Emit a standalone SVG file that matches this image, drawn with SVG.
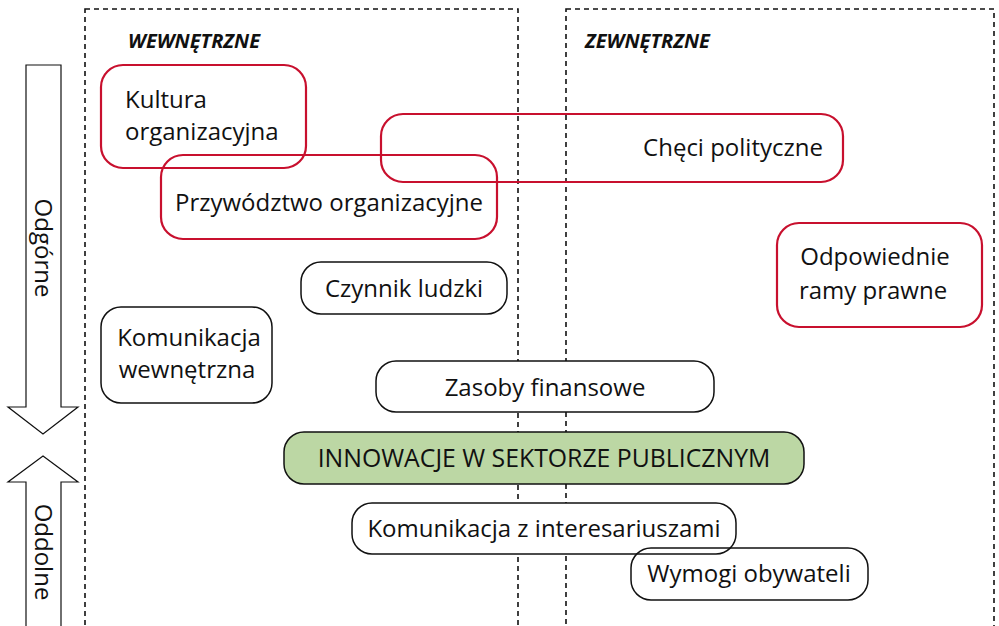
<svg xmlns="http://www.w3.org/2000/svg" width="999" height="626" viewBox="0 0 999 626">
  <style>
    text { font-family: "Open Sans", "Noto Sans", "Liberation Sans", sans-serif; fill: #111; }
    .lbl { font-size: 24px; }
    .big { font-size: 24.8px; }
    .hdr { font-size: 20px; font-weight: bold; font-style: italic; }
    .zone { fill: none; stroke: #111; stroke-width: 1.6; stroke-dasharray: 5 4; }
    .red { fill: none; stroke: #c8102e; stroke-width: 2.2; }
    .plain { fill: #fff; stroke: #111; stroke-width: 1.5; }
    .open { fill: none; stroke: #111; stroke-width: 1.5; }
    .core { fill: #bcd7a4; stroke: #111; stroke-width: 1.5; }
    .arrow { fill: #fff; stroke: #111; stroke-width: 1.2; }
    .mid { text-anchor: middle; }
  </style>

  <rect width="999" height="626" fill="#fff"/>

  <!-- zones -->
  <g id="zone-internal">
    <rect class="zone" x="85" y="9" width="433" height="640"/>
    <text class="hdr" x="128" y="48">WEWNĘTRZNE</text>
  </g>
  <g id="zone-external">
    <rect class="zone" x="566" y="9" width="428" height="640"/>
    <text class="hdr" x="585" y="48">ZEWNĘTRZNE</text>
  </g>

  <!-- direction arrows -->
  <g id="arrow-topdown">
    <polygon class="arrow" points="26,65 61,65 61,407 78,407 43,434 8,407 26,407"/>
    <text class="lbl" transform="translate(35,248) rotate(90)" text-anchor="middle">Odgórne</text>
  </g>
  <g id="arrow-bottomup">
    <polygon class="arrow" points="43,456 78,482 61,482 61,640 26,640 26,482 8,482"/>
    <text class="lbl" transform="translate(35,552) rotate(90)" text-anchor="middle">Oddolne</text>
  </g>

  <!-- factors -->
  <g id="node-innowacje">
    <rect class="core" x="284" y="432" width="520" height="52" rx="20"/>
    <text class="big mid" x="544" y="467">INNOWACJE W SEKTORZE PUBLICZNYM</text>
  </g>
  <g id="node-zasoby">
    <rect class="plain" x="376" y="361" width="338" height="51" rx="20"/>
    <text class="lbl mid" x="545" y="396">Zasoby finansowe</text>
  </g>
  <g id="node-interesariusze">
    <rect class="plain" x="352" y="503" width="384" height="51" rx="20"/>
    <text class="lbl mid" x="544" y="537">Komunikacja z interesariuszami</text>
  </g>
  <g id="node-wymogi">
    <rect class="open" x="631" y="548" width="237" height="52" rx="20"/>
    <text class="lbl mid" x="749" y="582">Wymogi obywateli</text>
  </g>
  <g id="node-czynnik">
    <rect class="plain" x="301" y="262" width="206" height="52" rx="20"/>
    <text class="lbl mid" x="404" y="297">Czynnik ludzki</text>
  </g>
  <g id="node-komunikacja-wewn">
    <rect class="plain" x="101" y="307" width="171" height="96" rx="20"/>
    <text class="lbl mid" x="189" y="346">Komunikacja</text>
    <text class="lbl mid" x="187" y="378">wewnętrzna</text>
  </g>
  <g id="node-kultura">
    <rect class="red" x="101" y="65" width="205" height="103" rx="22"/>
    <text class="lbl" x="125" y="108">Kultura</text>
    <text class="lbl" x="125" y="140">organizacyjna</text>
  </g>
  <g id="node-przywodztwo">
    <rect class="red" x="161" y="155" width="336" height="84" rx="22"/>
    <text class="lbl mid" x="329" y="211">Przywództwo organizacyjne</text>
  </g>
  <g id="node-checi">
    <rect class="red" x="381" y="114" width="462" height="68" rx="22"/>
    <text class="lbl mid" x="733" y="156">Chęci polityczne</text>
  </g>
  <g id="node-ramy">
    <rect class="red" x="777" y="223" width="205" height="104" rx="22"/>
    <text class="lbl mid" x="875" y="265">Odpowiednie</text>
    <text class="lbl mid" x="873" y="299">ramy prawne</text>
  </g>

  <g id="connectors"/>
</svg>
